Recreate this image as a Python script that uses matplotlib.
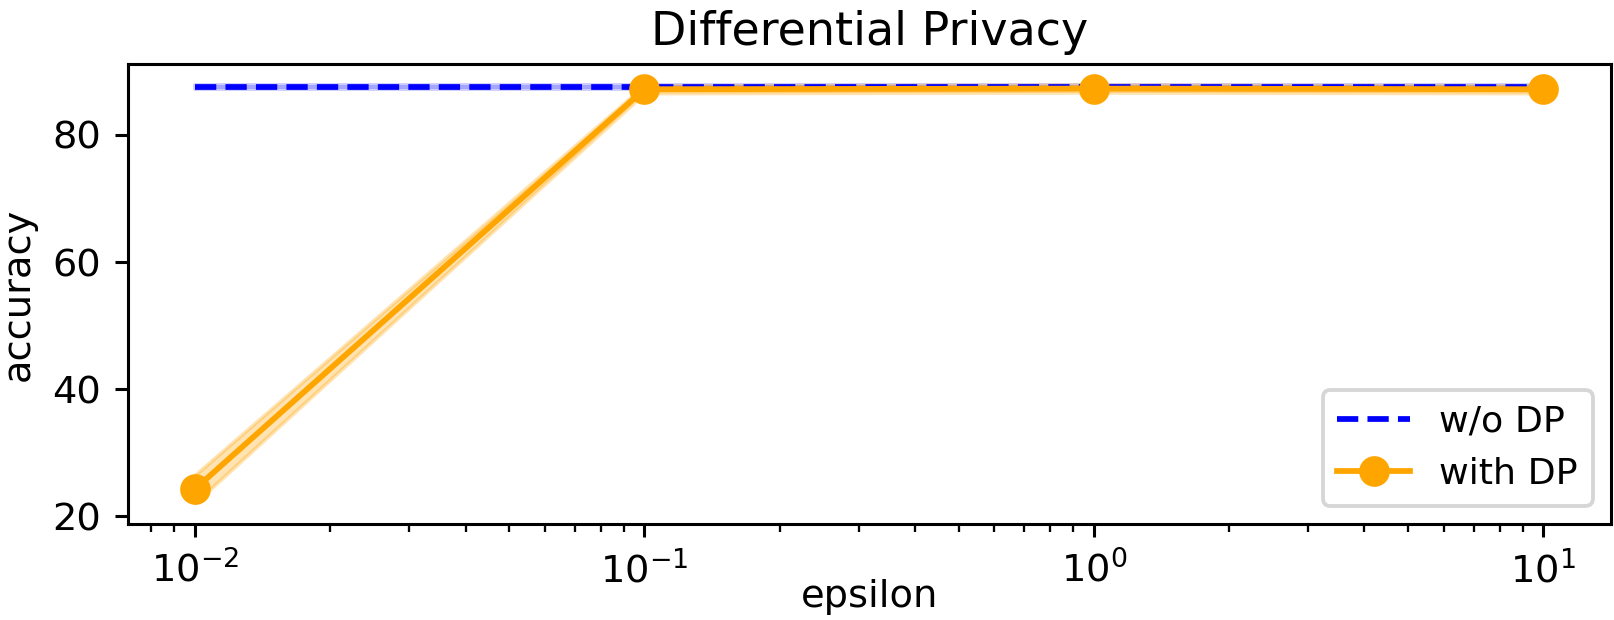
import numpy as np
import matplotlib
matplotlib.use("Agg")
import matplotlib.pyplot as plt

# privacy budgets and accuracies
epsilons = [0.01, 0.1, 1, 10]
acc_dp = [24.3, 87.2, 87.3, 87.2]
acc_dp_std = [2.2, 0.6, 0.6, 0.6]
acc_no_dp = [87.5, 87.5, 87.5, 87.5]
acc_no_dp_std = [0.3, 0.3, 0.3, 0.3]

DPI = 276
fig, ax = plt.subplots(figsize=(1614 / DPI, 620 / DPI), dpi=DPI)
fig.subplots_adjust(left=0.079, right=0.998, top=0.897, bottom=0.155)

no_dp = np.array(acc_no_dp)
ax.plot(epsilons, no_dp, '--', color='blue', label='w/o DP')
ax.fill_between(epsilons, no_dp - np.array(acc_no_dp_std), no_dp + np.array(acc_no_dp_std),
                color='blue', alpha=0.2)

dp = np.array(acc_dp)
ax.plot(epsilons, dp, '-o', color='orange', markersize=7, label='with DP')
ax.fill_between(epsilons, dp - np.array(acc_dp_std), dp + np.array(acc_dp_std),
                color='orange', alpha=0.3)

ax.set_xscale('log')
ax.set_title('Differential Privacy', pad=5)
ax.set_xlabel('epsilon', labelpad=-3)
ax.set_ylabel('accuracy')
ax.legend(loc='lower right', fontsize=9.5)

fig.savefig('out.png', dpi=DPI)
